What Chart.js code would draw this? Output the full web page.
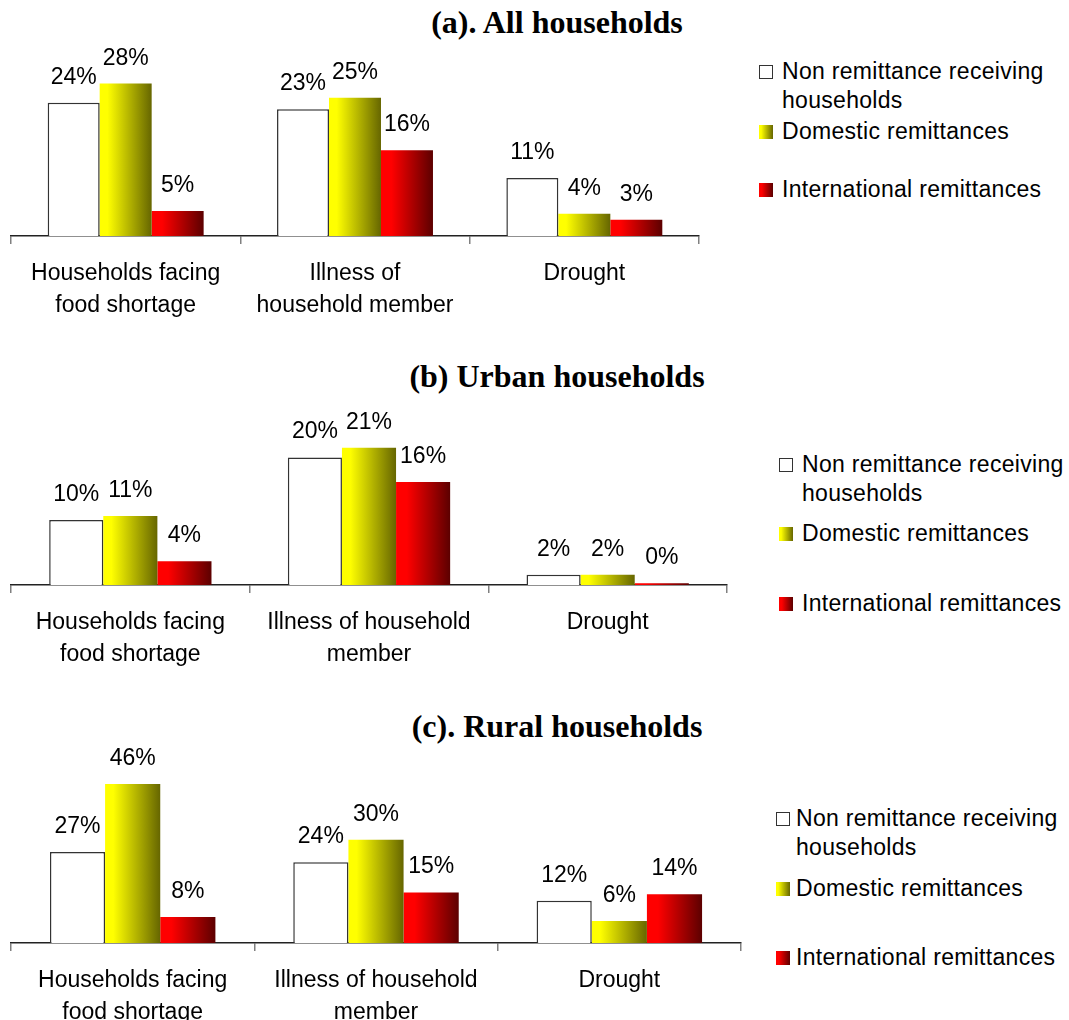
<!DOCTYPE html>
<html>
<head>
<meta charset="utf-8">
<script src="https://cdn.jsdelivr.net/npm/chart.js@4"></script>
<style>
  body { margin: 0; background: #fff; width: 1069px; height: 1020px; overflow: hidden; position: relative; font-family: "Liberation Sans", Arial, sans-serif; }
  canvas { position: absolute; left: 0; }
  .title { position: absolute; left: 257px; width: 600px; text-align: center; font-family: "Liberation Serif", "Times New Roman", serif; font-weight: bold; font-size: 32px; line-height: 36px; }
  .item { position: absolute; font-size: 23px; line-height: 29px; color: #000; letter-spacing: 0.3px; }
  .item .sw { position: absolute; left: 0; top: 8px; width: 14px; height: 14px; box-sizing: border-box; }
  .item .txt { display: block; width: 275px; }
  .sw.non { background: #fff; border: 1.5px solid #333; }
  .sw.dom { background: linear-gradient(to right, #ffff00, #ffff00 15%, #666600); }
  .sw.intl { background: linear-gradient(to right, #ff0000, #ff0000 20%, #5c0000); }
</style>
</head>
<body>
<div class="title" style="top:4px">(a). All households</div>
<div class="title" style="top:358px">(b) Urban households</div>
<div class="title" style="top:708px">(c). Rural households</div>

<canvas id="chartA" width="710" height="296" style="top:40px"></canvas>
<canvas id="chartB" width="738" height="285" style="top:400px"></canvas>
<canvas id="chartC" width="752" height="303" style="top:740px"></canvas>

<div id="legends"></div>

<script>
// series names
var seriesNames = ['Non remittance receiving households', 'Domestic remittances', 'International remittances'];

// categories
var catsAll = [['Households facing', 'food shortage'], ['Illness of', 'household member'], 'Drought'];
var catsSplit = [['Households facing', 'food shortage'], ['Illness of household', 'member'], 'Drought'];

// (a) all households, percent
var allNon = [24.4, 23.2, 10.6];
var allDom = [27.9, 25.3, 4.1];
var allIntl = [4.6, 15.7, 3.0];

// (b) urban households
var urbanNon = [10.1, 19.8, 1.6];
var urbanDom = [10.7, 21.3, 1.6];
var urbanIntl = [3.7, 16.0, 0.3];

// (c) rural households
var ruralNon = [26.5, 23.5, 12.3];
var ruralDom = [46.2, 30.0, 6.4];
var ruralIntl = [7.6, 14.7, 14.2];

var gradDom = [[0, '#ffff00'], [0.15, '#ffff00'], [1, '#666600']];
var gradIntl = [[0, '#ff0000'], [0.2, '#ff0000'], [1, '#5c0000']];

// horizontal gradient fill per bar (options are per element because colour is scriptable)
var gradientPlugin = {
    id: 'barGradient',
    beforeDatasetsDraw: function(chart) {
        var ctx = chart.ctx;
        chart.data.datasets.forEach(function(ds, i) {
            if (!ds.gradient) return;
            chart.getDatasetMeta(i).data.forEach(function(bar) {
                var p = bar.getProps(['x', 'width'], true);
                var g = ctx.createLinearGradient(p.x - p.width / 2, 0, p.x + p.width / 2, 0);
                ds.gradient.forEach(function(s) { g.addColorStop(s[0], s[1]); });
                bar.options.backgroundColor = g;
            });
        });
    }
};

// percent labels above bars
var valueLabels = {
    id: 'valueLabels',
    afterDatasetsDraw: function(chart) {
        var ctx = chart.ctx;
        ctx.save();
        ctx.font = '23px "Liberation Sans", Arial, sans-serif';
        ctx.fillStyle = '#000';
        ctx.textAlign = 'center';
        ctx.textBaseline = 'alphabetic';
        chart.data.datasets.forEach(function(ds, i) {
            chart.getDatasetMeta(i).data.forEach(function(bar, j) {
                ctx.fillText(Math.round(ds.data[j]) + '%', bar.x, bar.y - 19);
            });
        });
        ctx.restore();
    }
};

function makeChart(id, labels, non, dom, intl, yMax, padTop) {
    var ctx = document.getElementById(id).getContext('2d');
    return new Chart(ctx, {
        type: 'bar',
        data: {
            labels: labels,
            datasets: [{
                label: seriesNames[0],
                data: non,
                backgroundColor: '#ffffff',
                borderColor: '#333333',
                borderWidth: 1.5
            }, {
                label: seriesNames[1],
                data: dom,
                backgroundColor: function() { return '#cccc00'; },
                gradient: gradDom
            }, {
                label: seriesNames[2],
                data: intl,
                backgroundColor: function() { return '#cc0000'; },
                gradient: gradIntl
            }]
        },
        options: {
            responsive: false,
            animation: false,
            layout: { padding: { top: padTop, left: 11, right: 11, bottom: 0 } },
            datasets: { bar: { barPercentage: 1, categoryPercentage: 0.68 } },
            plugins: {
                legend: { display: false },
                title: { display: false },
                tooltip: { enabled: false }
            },
            scales: {
                x: {
                    grid: { display: true, drawOnChartArea: false, offset: true, tickLength: 8, color: '#808080', lineWidth: 1.5 },
                    border: { display: true, color: '#222222', width: 1.5 },
                    ticks: {
                        color: '#000',
                        padding: 14,
                        maxRotation: 0,
                        autoSkip: false,
                        font: { family: '"Liberation Sans", Arial, sans-serif', size: 23, lineHeight: 1.39 }
                    }
                },
                y: { display: false, min: 0, max: yMax }
            }
        },
        plugins: [gradientPlugin, valueLabels]
    });
}

makeChart('chartA', catsAll, allNon, allDom, allIntl, 32.2, 20);
makeChart('chartB', catsSplit, urbanNon, urbanDom, urbanIntl, 25.6, 20);
makeChart('chartC', catsSplit, ruralNon, ruralDom, ruralIntl, 50.3, 30);

// legends (html)
var legendSpots = [
    { swX: 759, txX: 782, ys: [57, 117, 175] },
    { swX: 779, txX: 802, ys: [450, 519, 589] },
    { swX: 776, txX: 796, ys: [804, 874, 943] }
];
var swClass = ['non', 'dom', 'intl'];
var holder = document.getElementById('legends');
legendSpots.forEach(function(spot) {
    seriesNames.forEach(function(name, k) {
        var d = document.createElement('div');
        d.className = 'item';
        d.style.left = spot.swX + 'px';
        d.style.top = spot.ys[k] + 'px';
        d.innerHTML = '<span class="sw ' + swClass[k] + '"></span><span class="txt" style="margin-left:' + (spot.txX - spot.swX) + 'px">' + name + '</span>';
        holder.appendChild(d);
    });
});
</script>
</body>
</html>
